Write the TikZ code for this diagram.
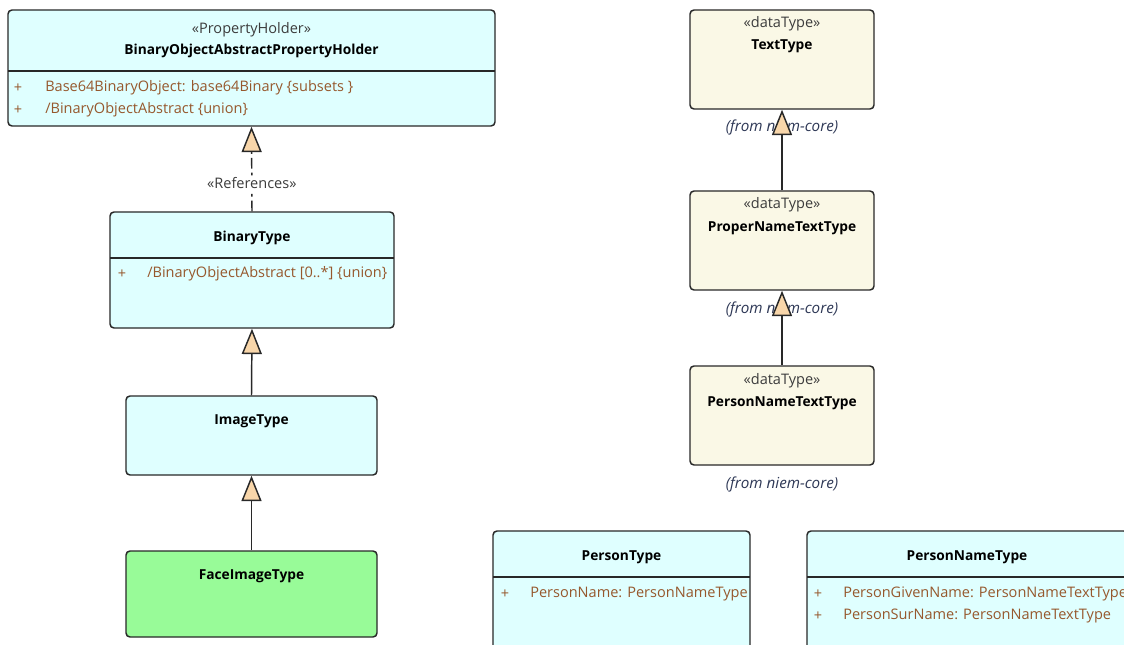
\documentclass[tikz,border=0pt]{standalone}
\usepackage{fontspec}
\setmainfont{Open Sans}
\usetikzlibrary{arrows.meta,fit}

\definecolor{classfill}{RGB}{223,255,255}
\definecolor{typefill}{RGB}{250,248,230}
\definecolor{facefill}{RGB}{152,251,152}
\definecolor{boxline}{RGB}{40,40,40}
\definecolor{attrtext}{RGB}{150,88,45}
\definecolor{stereotext}{RGB}{60,60,60}
\definecolor{fromtext}{RGB}{45,55,85}
\definecolor{tipfill}{RGB}{248,214,170}

\tikzset{
  classbox/.style={draw=boxline, line width=1.1pt, rounded corners=3pt, fill=classfill, inner sep=0pt},
  typebox/.style={classbox, fill=typefill},
  facebox/.style={classbox, fill=facefill},
  divider/.style={draw=boxline, line width=1.1pt},
  stereo/.style={text=stereotext, inner sep=0pt},
  cname/.style={font=\fontsize{10.3}{12}\selectfont\bfseries, inner sep=0pt},
  attr/.style={text=attrtext, anchor=west, inner sep=0pt},
  vis/.style={text=attrtext, inner sep=0pt},
  fromlabel/.style={text=fromtext, font=\fontsize{11.4}{13}\selectfont\itshape, inner sep=0pt},
  gen/.style={draw=boxline, line width=1.1pt, -{Triangle[length=19pt, width=15pt, fill=tipfill]}},
  refline/.style={gen, dash pattern=on 8pt off 3pt on 2pt off 3pt}
}

\begin{document}
\begin{tikzpicture}[x=0.75pt, y=-0.75pt, font=\fontsize{10.9}{12}\selectfont]

\useasboundingbox (0,0) rectangle (1124,645);
\clip (0,0) rectangle (1124,645);

%Left column
\node[classbox, fit={(8,10) (495,126)}] (holder) {};
\draw[divider] (8,71) -- (495,71);
\node[stereo] (holder-st) at (251.5,30) {«PropertyHolder»};
\node[cname] (holder-name) at (251.5,51) {BinaryObjectAbstractPropertyHolder};
\node[vis] (holder-v1) at (18,88) {+};
\node[attr] (holder-a1) at (45,88) {Base64BinaryObject: base64Binary \{subsets \}};
\node[vis] (holder-v2) at (18,110) {+};
\node[attr] (holder-a2) at (45,110) {/BinaryObjectAbstract \{union\}};

\node[classbox, fit={(110,212) (394,328)}] (binary) {};
\draw[divider] (110,258) -- (394,258);
\node[cname] (binary-name) at (252,238) {BinaryType};
\node[vis] (binary-v1) at (122,274) {+};
\node[attr] (binary-a1) at (147,274) {/BinaryObjectAbstract [0..*] \{union\}};

\node[classbox, fit={(126,396) (377,475)}] (image) {};
\node[cname] (image-name) at (251.5,421) {ImageType};

\node[facebox, fit={(126,551) (377,637)}] (face) {};
\node[cname] (face-name) at (251.5,576) {FaceImageType};

%Right column
\node[typebox, fit={(690,10) (874,109)}] (text) {};
\node[stereo] (text-st) at (782,24) {«dataType»};
\node[cname] (text-name) at (782,46) {TextType};
\node[fromlabel] (text-from) at (782,128) {(from niem-core)};

\node[typebox, fit={(690,191) (874,290)}] (proper) {};
\node[stereo] (proper-st) at (782,205) {«dataType»};
\node[cname] (proper-name) at (782,228) {ProperNameTextType};
\node[fromlabel] (proper-from) at (782,310) {(from niem-core)};

\node[typebox, fit={(690,366) (874,465)}] (pntext) {};
\node[stereo] (pntext-st) at (782,381) {«dataType»};
\node[cname] (pntext-name) at (782,403) {PersonNameTextType};
\node[fromlabel] (pntext-from) at (782,485) {(from niem-core)};

%Bottom row
\node[classbox, fit={(493,531) (750,670)}] (person) {};
\draw[divider] (493,577) -- (750,577);
\node[cname] (person-name) at (621.5,557) {PersonType};
\node[vis] (person-v1) at (505,594) {+};
\node[attr] (person-a1) at (530,594) {PersonName: PersonNameType};

\node[classbox, fit={(807,531) (1128,670)}] (pname) {};
\draw[divider] (807,577) -- (1128,577);
\node[cname] (pname-name) at (967,557) {PersonNameType};
\node[vis] (pname-v1) at (818,594) {+};
\node[attr] (pname-a1) at (843,594) {PersonGivenName: PersonNameTextType};
\node[vis] (pname-v2) at (818,616) {+};
\node[attr] (pname-a2) at (843,616) {PersonSurName: PersonNameTextType};

%Connectors
\draw[refline] (binary.north) -- node[pos=0.33, fill=white, text=stereotext, inner sep=1pt] (ref-label) {«References»} (holder.south);
\draw[gen] (image.north) -- (binary.south);
\draw[gen] (face.north) -- (image.south);
\draw[gen] (proper.north) -- (text.south);
\draw[gen] (pntext.north) -- (proper.south);

\end{tikzpicture}
\end{document}
